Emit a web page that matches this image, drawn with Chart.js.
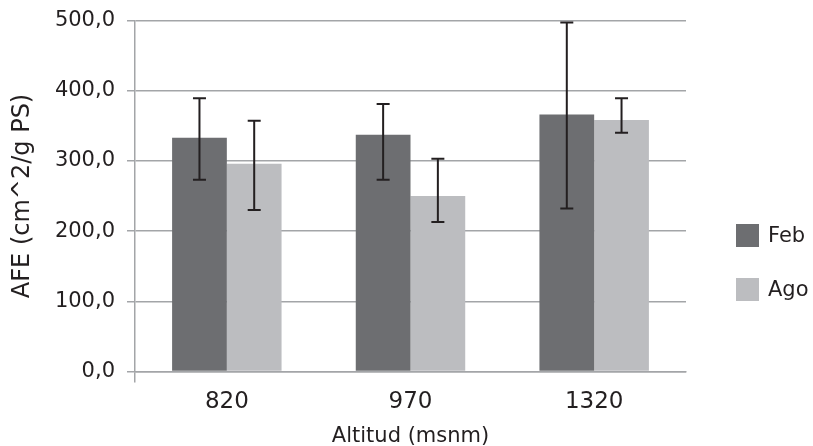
<!DOCTYPE html>
<html lang="es">
<head>
  <meta charset="UTF-8" />
  <title>AFE por altitud</title>
  <script src="https://cdn.jsdelivr.net/npm/chart.js"></script>
  <style>
    body { margin: 0; background: #ffffff; }
    #wrap { width: 813px; height: 446px; }
  </style>
</head>
<body>
  <div id="wrap"><canvas id="afeChart"></canvas></div>

  <script>
    // data
    const altitudes = ['820', '970', '1320'];
    const seriesNames = ['Feb', 'Ago'];
    const febValues = [333, 337, 366];
    const febLow = [273, 273, 232];
    const febHigh = [389, 381, 497];
    const agoValues = [296, 250, 358];
    const agoLow = [230, 213, 340];
    const agoHigh = [357, 303, 389];

    const textColor = '#231f20';
    const gridColor = '#a3a5a8';
    const FONT = "'DejaVu Sans', sans-serif";

    // whiskers drawn from the low/high arrays through the y scale
    const errorBars = {
      id: 'errorBars',
      afterDatasetsDraw(chart, args, opts) {
        const ctx = chart.ctx;
        const y = chart.scales.y;
        ctx.save();
        ctx.strokeStyle = opts.color;
        ctx.lineWidth = opts.width;
        chart.data.datasets.forEach((ds, di) => {
          const meta = chart.getDatasetMeta(di);
          meta.data.forEach((bar, i) => {
            const top = y.getPixelForValue(ds.high[i]);
            const bot = y.getPixelForValue(ds.low[i]);
            const x = bar.x;
            ctx.beginPath();
            ctx.moveTo(x, top); ctx.lineTo(x, bot);
            ctx.moveTo(x - opts.cap, top); ctx.lineTo(x + opts.cap, top);
            ctx.moveTo(x - opts.cap, bot); ctx.lineTo(x + opts.cap, bot);
            ctx.stroke();
          });
        });
        ctx.restore();
      }
    };

    // simple legend to the right of the plot
    const sideLegend = {
      id: 'sideLegend',
      afterDraw(chart, args, opts) {
        const ctx = chart.ctx;
        const area = chart.chartArea;
        ctx.save();
        ctx.font = opts.font;
        ctx.textBaseline = 'middle';
        chart.data.datasets.forEach((ds, i) => {
          const cy = opts.firstY + i * opts.gap;
          const bx = area.right + opts.offsetX;
          ctx.fillStyle = ds.backgroundColor;
          ctx.fillRect(bx, cy - opts.box / 2, opts.box, opts.box);
          ctx.fillStyle = textColor;
          ctx.fillText(ds.label, bx + opts.box + 9, cy + 1);
        });
        ctx.restore();
      }
    };

    new Chart(document.getElementById('afeChart'), {
      type: 'bar',
      data: {
        labels: altitudes,
        datasets: [
          { label: seriesNames[0], data: febValues, low: febLow, high: febHigh, backgroundColor: '#6d6e71' },
          { label: seriesNames[1], data: agoValues, low: agoLow, high: agoHigh, backgroundColor: '#bcbdc0' }
        ]
      },
      options: {
        responsive: true,
        maintainAspectRatio: false,
        animation: false,
        categoryPercentage: 0.596,
        barPercentage: 1,
        layout: { padding: { top: 12, right: 127, left: 0, bottom: 0 } },
        plugins: {
          legend: { display: false },
          tooltip: { enabled: false },
          errorBars: { color: '#231f20', width: 2, cap: 6.5 },
          sideLegend: { font: '21px ' + FONT, box: 23, offsetX: 50, firstY: 235.5, gap: 54 }
        },
        scales: {
          x: {
            offset: true,
            grid: {
              offset: true,
              drawOnChartArea: false,
              tickLength: 11,
              lineWidth: 1.5,
              color: c => c.index === 0 ? gridColor : 'rgba(0,0,0,0)'
            },
            border: { display: true, color: gridColor, width: 1.5 },
            ticks: { color: textColor, font: { family: FONT, size: 23 }, padding: 6 },
            title: {
              display: true,
              text: 'Altitud (msnm)',
              color: textColor,
              font: { family: FONT, size: 21, lineHeight: 1.0 },
              padding: { top: 0, bottom: -1 }
            },
            afterFit: s => { s.height = 74.5; }
          },
          y: {
            min: 0,
            max: 500,
            ticks: {
              stepSize: 100,
              color: textColor,
              font: { family: FONT, size: 21, lineHeight: 0.8 },
              padding: 12,
              callback: v => v.toFixed(1).replace('.', ',')
            },
            grid: { color: gridColor, lineWidth: 1.5, tickLength: 8 },
            border: { display: true, color: gridColor, width: 1.5 },
            title: {
              display: true,
              text: 'AFE (cm^2/g PS)',
              color: textColor,
              font: { family: FONT, size: 24 },
              padding: { top: 8, bottom: 0 }
            },
            afterFit: s => { s.width = 135; }
          }
        }
      },
      plugins: [errorBars, sideLegend]
    });
  </script>
</body>
</html>
